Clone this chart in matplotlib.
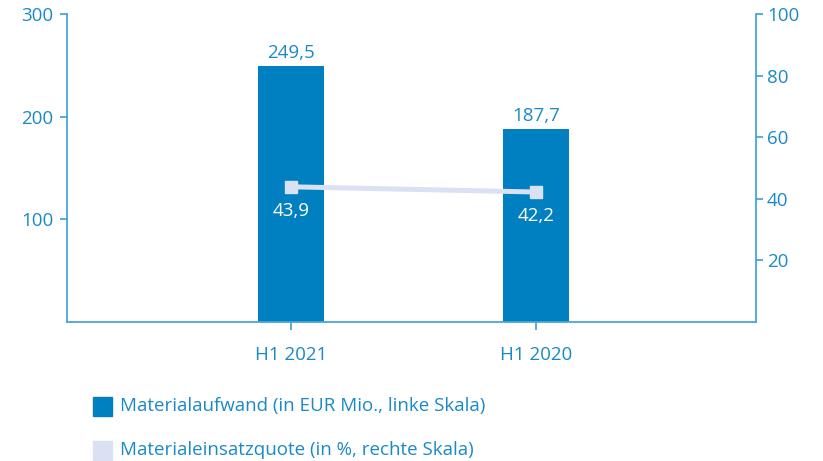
import matplotlib.pyplot as plt
from matplotlib.patches import Rectangle

plt.rcParams['font.family'] = ['Open Sans', 'DejaVu Sans']

# Daten
kategorien = ['H1 2021', 'H1 2020']
materialaufwand = [249.5, 187.7]      # EUR Mio., linke Skala
einsatzquote = [43.9, 42.2]           # %, rechte Skala
links_ticks = [100, 200, 300]
rechts_ticks = [20, 40, 60, 80, 100]
legende = ['Materialaufwand (in EUR Mio., linke Skala)',
           'Materialeinsatzquote (in %, rechte Skala)']

bar_color = '#0080c0'
line_color = '#d9e1f3'
text_color = '#1a8ac6'
axis_color = '#4aa6d6'
fs = 13.5

def fmt(v):
    return f'{v:.1f}'.replace('.', ',')

W, H = 823, 461
fig = plt.figure(figsize=(W / 100, H / 100), dpi=100)
ax = fig.add_axes([67 / W, 139 / H, 689 / W, 308 / H])
x = list(range(len(kategorien)))

ax.bar(x, materialaufwand, width=0.27, color=bar_color, zorder=2)
for xi, v in zip(x, materialaufwand):
    ax.annotate(fmt(v), (xi, v), xytext=(0, 3), textcoords='offset points',
                ha='center', va='bottom', color=text_color, fontsize=fs)

ax.set_xlim(-0.914, 1.898)
ax.set_ylim(0, 300)
ax.set_xticks(x)
ax.set_xticklabels(kategorien)
ax.set_yticks(links_ticks)
for s in ['top', 'right']:
    ax.spines[s].set_visible(False)
for s in ['left', 'bottom']:
    ax.spines[s].set_color(axis_color)
    ax.spines[s].set_linewidth(1.3)
ax.tick_params(axis='y', colors=axis_color, labelcolor=text_color,
               labelsize=fs, length=5, width=1.3, pad=5)
ax.tick_params(axis='x', colors=axis_color, labelcolor=text_color,
               labelsize=fs, length=6, width=1.3, pad=11)

ax2 = ax.twinx()
ax2.plot(x, einsatzquote, color=line_color, linewidth=3.6,
         marker='s', markersize=9, zorder=3)
for xi, v in zip(x, einsatzquote):
    ax2.annotate(fmt(v), (xi, v), xytext=(0, -11), textcoords='offset points',
                 ha='center', va='top', color='white', fontsize=fs)
ax2.set_ylim(0, 100)
ax2.set_yticks(rechts_ticks)
for s in ['top', 'left', 'bottom']:
    ax2.spines[s].set_visible(False)
ax2.spines['right'].set_color(axis_color)
ax2.spines['right'].set_linewidth(1.3)
ax2.tick_params(axis='y', colors=axis_color, labelcolor=text_color,
                labelsize=fs, length=5, width=1.3, pad=3)

# Legende: Farbkästchen + Text
for i, (farbe, text) in enumerate(zip([bar_color, line_color], legende)):
    yc = 406 + i * 44
    fig.patches.append(Rectangle((93 / W, 1 - (yc + 9.5) / H), 19 / W, 19 / H,
                                 transform=fig.transFigure, color=farbe))
    fig.text(120 / W, 1 - yc / H, text, color=text_color, fontsize=fs,
             ha='left', va='center')

fig.savefig('out.png', dpi=100)
